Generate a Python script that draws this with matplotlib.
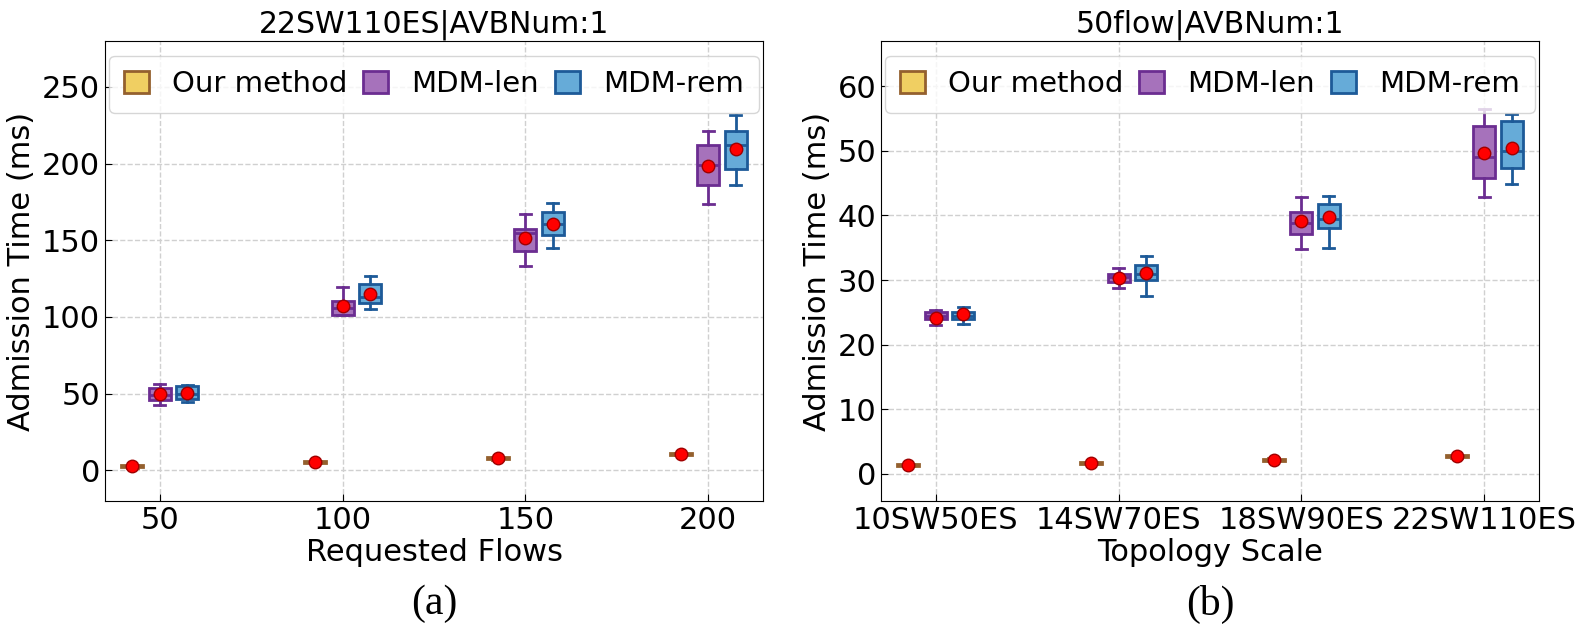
import matplotlib
matplotlib.use("Agg")
from matplotlib import pyplot as plt
from matplotlib.patches import Patch
import numpy as np

# ---- data ----
flows = [50, 100, 150, 200]
topo_labels = ["10SW50ES", "14SW70ES", "18SW90ES", "22SW110ES"]
series_names = ["Our method", "MDM-len", "MDM-rem"]

# (a) requested flows, 22SW110ES
ours_a_lo = [1.8, 4.6, 7.0, 9.9]
ours_a_q1 = [2.0, 4.8, 7.2, 10.1]
ours_a_med = [2.6, 5.4, 7.8, 10.7]
ours_a_q3 = [3.2, 6.0, 8.4, 11.3]
ours_a_hi = [3.4, 6.2, 8.6, 11.5]
ours_a_mean = [2.7, 5.5, 7.9, 10.8]

len_a_lo = [42.8, 101.0, 133.5, 173.7]
len_a_q1 = [45.7, 101.5, 142.8, 185.9]
len_a_med = [48.9, 106.1, 154.8, 198.9]
len_a_q3 = [53.7, 110.7, 157.4, 212.2]
len_a_hi = [56.5, 119.8, 167.4, 221.3]
len_a_mean = [49.6, 107.2, 151.3, 198.3]

rem_a_lo = [44.8, 105.0, 145.2, 186.3]
rem_a_q1 = [46.7, 108.9, 153.3, 196.3]
rem_a_med = [50.0, 113.0, 160.7, 212.2]
rem_a_q3 = [54.8, 121.5, 168.3, 221.5]
rem_a_hi = [55.7, 126.5, 174.6, 231.7]
rem_a_mean = [50.7, 114.8, 160.7, 209.6]

# (b) topology scale, 50 flows
ours_b_lo = [1.2, 1.5, 2.0, 2.5]
ours_b_q1 = [1.25, 1.55, 2.05, 2.55]
ours_b_med = [1.4, 1.7, 2.2, 2.7]
ours_b_q3 = [1.55, 1.85, 2.35, 2.85]
ours_b_hi = [1.6, 1.9, 2.4, 2.9]
ours_b_mean = [1.4, 1.7, 2.2, 2.7]

len_b_lo = [23.0, 28.7, 34.8, 42.9]
len_b_q1 = [23.9, 29.7, 37.2, 45.8]
len_b_med = [24.5, 30.5, 38.8, 49.0]
len_b_q3 = [25.0, 30.9, 40.5, 53.8]
len_b_hi = [25.4, 31.9, 42.8, 56.4]
len_b_mean = [24.1, 30.3, 39.1, 49.6]

rem_b_lo = [23.2, 27.5, 34.9, 44.9]
rem_b_q1 = [24.0, 30.0, 38.0, 47.3]
rem_b_med = [24.5, 30.9, 39.4, 49.9]
rem_b_q3 = [25.1, 32.3, 41.8, 54.6]
rem_b_hi = [25.9, 33.7, 43.0, 55.7]
rem_b_mean = [24.7, 31.1, 39.7, 50.5]

# ---- styles ----
face_cols = ["#f0cf62", "#a672bb", "#66abd8"]
edge_cols = ["#94602e", "#6b2d91", "#1d5a98"]


def make_stats(lo, q1, med, q3, hi, mean):
    return [dict(whislo=lo[i], q1=q1[i], med=med[i], q3=q3[i], whishi=hi[i],
                 mean=mean[i], fliers=[]) for i in range(len(med))]


def draw_group(ax, stats, pos, width, face, edge):
    ax.bxp(stats, positions=pos, widths=width, patch_artist=True,
           showmeans=True, showfliers=False,
           boxprops=dict(facecolor=face, edgecolor=edge, linewidth=2),
           medianprops=dict(color=edge, linewidth=2),
           whiskerprops=dict(color=edge, linewidth=2),
           capprops=dict(color=edge, linewidth=2),
           meanprops=dict(marker="o", markerfacecolor="red",
                          markeredgecolor="#a00000", markersize=9),
           manage_ticks=False)


def style_axes(ax, title, xlabel):
    ax.set_title(title, fontsize=21.5)
    ax.set_xlabel(xlabel, fontsize=22, labelpad=2)
    ax.set_ylabel("Admission Time (ms)", fontsize=22)
    ax.tick_params(axis="both", direction="in", labelsize=22, length=5)
    ax.grid(True, linestyle="--", color="#d0d0d0", linewidth=1)
    ax.set_axisbelow(True)
    handles = [Patch(facecolor=face_cols[i], edgecolor=edge_cols[i], linewidth=2)
               for i in range(3)]
    ax.legend(handles, series_names, loc="upper center", ncol=3, fontsize=21,
              handlelength=0.85, handleheight=0.75, handletextpad=0.8,
              columnspacing=0.55, borderaxespad=0.5, borderpad=0.5)


fig = plt.figure(figsize=(15.77, 6.34), dpi=100)
ax1 = fig.add_axes([105 / 1577, 133 / 634, 658 / 1577, 460 / 634])
ax2 = fig.add_axes([881 / 1577, 133 / 634, 658 / 1577, 460 / 634])

xa = np.array(flows, dtype=float)
draw_group(ax1, make_stats(ours_a_lo, ours_a_q1, ours_a_med, ours_a_q3, ours_a_hi, ours_a_mean),
           xa - 7.5, 6, face_cols[0], edge_cols[0])
draw_group(ax1, make_stats(len_a_lo, len_a_q1, len_a_med, len_a_q3, len_a_hi, len_a_mean),
           xa, 6, face_cols[1], edge_cols[1])
draw_group(ax1, make_stats(rem_a_lo, rem_a_q1, rem_a_med, rem_a_q3, rem_a_hi, rem_a_mean),
           xa + 7.5, 6, face_cols[2], edge_cols[2])
ax1.set_xticks(flows)
ax1.set_xlim(35, 215)
ax1.set_yticks(np.arange(0, 251, 50))
ax1.set_ylim(-20, 280)
style_axes(ax1, "22SW110ES|AVBNum:1", "Requested Flows")

xb = np.arange(1, len(topo_labels) + 1, dtype=float)
draw_group(ax2, make_stats(ours_b_lo, ours_b_q1, ours_b_med, ours_b_q3, ours_b_hi, ours_b_mean),
           xb - 0.15, 0.12, face_cols[0], edge_cols[0])
draw_group(ax2, make_stats(len_b_lo, len_b_q1, len_b_med, len_b_q3, len_b_hi, len_b_mean),
           xb, 0.12, face_cols[1], edge_cols[1])
draw_group(ax2, make_stats(rem_b_lo, rem_b_q1, rem_b_med, rem_b_q3, rem_b_hi, rem_b_mean),
           xb + 0.15, 0.12, face_cols[2], edge_cols[2])
ax2.set_xticks(xb)
ax2.set_xticklabels(topo_labels)
ax2.set_xlim(0.7, 4.3)
ax2.set_yticks(np.arange(0, 61, 10))
ax2.set_ylim(-4.2, 67)
style_axes(ax2, "50flow|AVBNum:1", "Topology Scale")

fig.text(434 / 1577, 30 / 634, "(a)", ha="center", va="center",
         fontsize=30, family="Liberation Serif")
fig.text(1210 / 1577, 30 / 634, "(b)", ha="center", va="center",
         fontsize=30, family="Liberation Serif")

fig.savefig("out.png", dpi=100)
